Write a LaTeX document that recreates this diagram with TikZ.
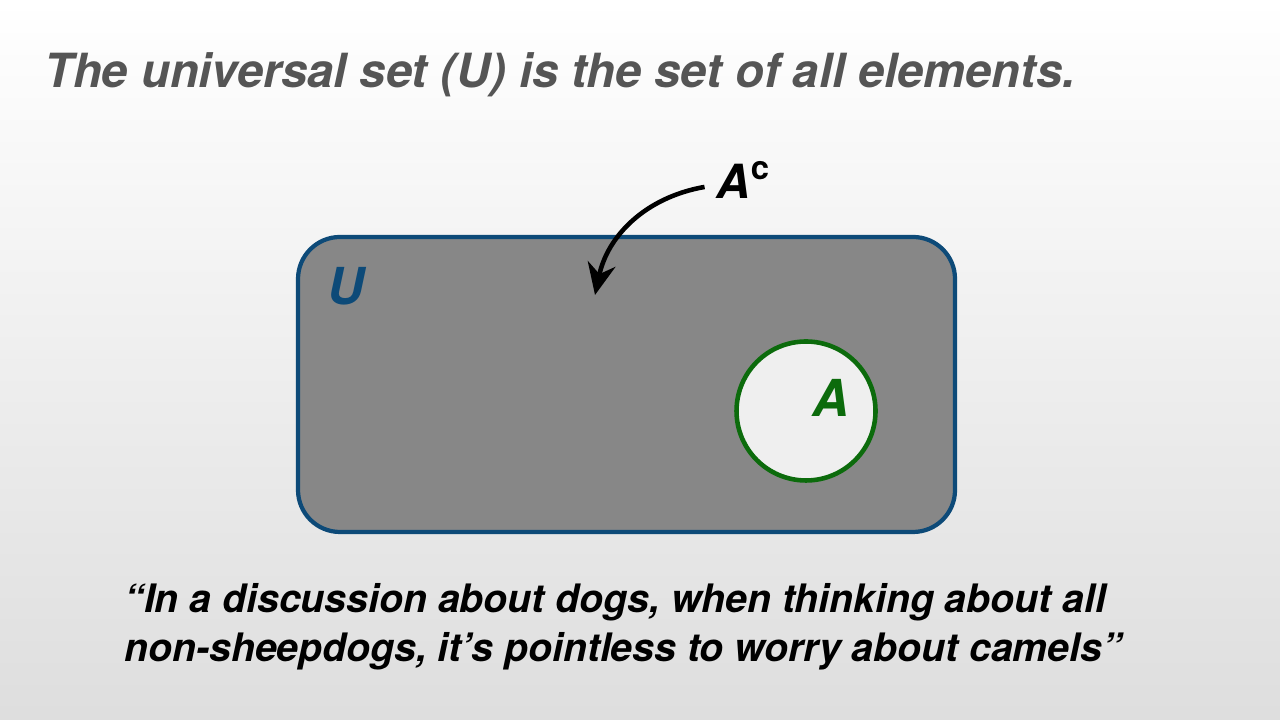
\documentclass[tikz,border=0pt]{standalone}
\usepackage{fontspec}
\setmainfont{TeX Gyre Heros}
\usepackage{xcolor}
\usepackage{tikz}
\usetikzlibrary{arrows.meta}
\definecolor{title}{HTML}{555555}
\definecolor{ublue}{HTML}{0D4A78}
\definecolor{agreen}{HTML}{0C6B0C}
\definecolor{ufill}{HTML}{878787}
\definecolor{afill}{HTML}{EFEFEF}
\tikzset{
  uset/.style={draw=ublue, fill=ufill, line width=1.2pt, rounded corners=0.42cm},
  aset/.style={draw=agreen, fill=afill, line width=1.3pt},
  arr/.style={draw=black, line width=1.3pt, -{Stealth[length=9pt,width=8pt]}},
  headline/.style={text=title, font=\fontsize{13.4}{16}\selectfont\bfseries\itshape, anchor=west},
  quote/.style={text=black, font=\fontsize{11.15}{14}\selectfont\bfseries\itshape, align=left, anchor=west},
  setlbl/.style={font=\fontsize{14.5}{17}\selectfont\bfseries\itshape}
}
\begin{document}
\begin{tikzpicture}
  \shade[top color=white, bottom color=black!13] (0,0) rectangle (12.8,7.2);
  \useasboundingbox (0,0) rectangle (12.8,7.2);

  \node[headline] (head) at (0.32,6.45) {The universal set (U) is the set of all elements.};

  \draw[uset] (2.98,1.88) rectangle (9.55,4.83);
  \node[setlbl, text=ublue] (U) at (3.46,4.34) {U};

  \draw[aset] (8.06,3.09) circle (0.695);
  \node[setlbl, text=agreen] (A) at (8.31,3.22) {A};

  \node[setlbl, font=\fontsize{13.4}{16}\selectfont\bfseries\itshape] (Ac) at (7.44,5.40) {A\textsuperscript{\upshape c}};
  \coordinate (tip) at (5.95,4.25);
  \draw[arr] (Ac) to[out=190, in=78] (tip);

  \node[quote] (quote) at (1.12,0.93) {“In a discussion about dogs, when thinking about all\\non-sheepdogs, it’s pointless to worry about camels”};
\end{tikzpicture}
\end{document}
